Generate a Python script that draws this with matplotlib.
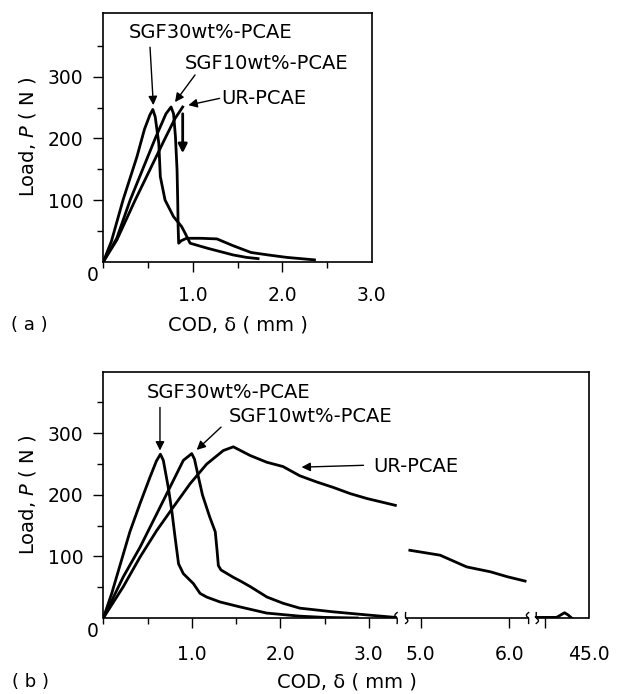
import numpy as np
import matplotlib
matplotlib.use("Agg")
import matplotlib.pyplot as plt
from matplotlib.transforms import blended_transform_factory

plt.rcParams['font.family'] = ['DejaVu Sans']
plt.rcParams['mathtext.fontset'] = 'dejavusans'

# ---- panel (a): COD up to 3 mm ----
a_sgf30_x = [0, 0.09, 0.22, 0.375, 0.46, 0.52, 0.553, 0.58, 0.62, 0.637, 0.69, 0.785,
             0.875, 0.915, 0.97, 1.16, 1.45, 1.60, 1.73]
a_sgf30_y = [0, 33, 100, 170, 215, 238, 247, 235, 192, 138, 100, 73,
             57, 46, 30, 22, 11, 7, 5]
a_sgf10_x = [0, 0.15, 0.30, 0.58, 0.70, 0.757, 0.785, 0.806, 0.824, 0.832, 0.836, 0.842,
             0.87, 0.93, 1.09, 1.27, 1.45, 1.65, 1.84, 2.05, 2.36]
a_sgf10_y = [0, 38, 100, 200, 240, 251, 240, 203, 149, 95, 57, 30,
             34, 38, 38, 37, 26, 15, 11, 7, 3]
a_ur_x = [0, 0.15, 0.356, 0.69, 0.80, 0.887]
a_ur_y = [0, 35, 100, 200, 232, 251]

# ---- panel (b): broken COD axis ----
b_sgf30_x = [0, 0.095, 0.30, 0.415, 0.528, 0.60, 0.645, 0.678, 0.734, 0.773, 0.81, 0.85,
             0.904, 1.017, 1.093, 1.168, 1.32, 1.545, 1.846, 2.22, 2.5, 2.87]
b_sgf30_y = [0, 40, 140, 186, 229, 255, 266, 256, 212, 175, 132, 88,
             72, 56, 40, 34, 26, 18, 8, 3, 1, 0]
b_sgf10_x = [0, 0.226, 0.415, 0.603, 0.79, 0.904, 0.999, 1.03, 1.07, 1.12, 1.2, 1.265,
             1.285, 1.30, 1.33, 1.40, 1.47, 1.55, 1.66, 1.85, 2.03, 2.22, 2.6, 2.98, 3.30]
b_sgf10_y = [0, 67, 115, 169, 223, 256, 267, 258, 232, 200, 165, 140,
             110, 85, 78, 72, 66, 60, 51, 34, 24, 16, 10, 5, 1]
b_ur_x = [0, 0.226, 0.415, 0.603, 0.79, 0.98, 1.168, 1.356, 1.469, 1.658, 1.846, 2.03,
          2.22, 2.41, 2.60, 2.79, 2.98, 3.30]
b_ur_y = [0, 51, 99, 142, 180, 218, 250, 272, 278, 264, 253, 246,
          231, 221, 212, 202, 194, 183]
b_ur2_x = [4.878, 5.22, 5.52, 5.79, 5.98, 6.18]
b_ur2_y = [110, 102, 83, 75, 67, 60]
b_ur3_x = [44.40, 44.63, 44.69, 44.72, 44.76, 44.80]
b_ur3_y = [1, 1, 6, 8.5, 5, 0]

# broken axis: shown pieces of the COD axis
b_segments = [(0, 3.32), (4.83, 6.22), (44.4, 45.0)]
b_ticks = [1.0, 2.0, 3.0, 5.0, 6.0, 44.5, 45.0]
b_ticklabels = ['1.0', '2.0', '3.0', '5.0', '6.0', '', '45.0']

seg_x = [-10, 0, 3.32, 4.83, 6.22, 44.4, 45.0, 60]
seg_u = [-10, 0, 3.32, 3.416, 4.806, 4.892, 5.492, 20.492]


def fwd(x):
    return np.interp(x, seg_x, seg_u)


def inv(u):
    return np.interp(u, seg_u, seg_x)


LW = 2.0
fig = plt.figure(figsize=(6.18, 6.94), dpi=100)
ax1 = fig.add_axes([0.1672, 0.6229, 0.4343, 0.3588])
ax2 = fig.add_axes([0.1672, 0.1095, 0.7864, 0.3549])
ax2.set_xscale('function', functions=(fwd, inv))

ax1.plot(a_sgf30_x, a_sgf30_y, color='k', lw=LW)
ax1.plot(a_sgf10_x, a_sgf10_y, color='k', lw=LW)
ax1.plot(a_ur_x, a_ur_y, color='k', lw=LW)

ax2.plot(b_sgf30_x, b_sgf30_y, color='k', lw=LW)
ax2.plot(b_sgf10_x, b_sgf10_y, color='k', lw=LW)
ax2.plot(b_ur_x, b_ur_y, color='k', lw=LW)
ax2.plot(b_ur2_x, b_ur2_y, color='k', lw=LW)
ax2.plot(b_ur3_x, b_ur3_y, color='k', lw=LW)

ax1.set_xlim(0, 3.0)
ax1.set_ylim(0, 404)
ax2.set_xlim(0, 45.0)
ax2.set_ylim(0, 400)

for ax in (ax1, ax2):
    for s in ax.spines.values():
        s.set_linewidth(1.2)
    ax.set_yticks([100, 200, 300])
    ax.set_yticks([50, 150, 250, 350], minor=True)
    ax.tick_params(which='both', direction='out', width=1.0, labelsize=13.5)
    ax.tick_params(which='major', length=7.2)
    ax.tick_params(which='minor', length=4.3)
    ax.tick_params(axis='y', pad=7)
    ax.annotate('0', xy=(0, 0), xytext=(-7.5, -10), textcoords='offset points',
                ha='center', va='center', fontsize=13.5)

ax1.set_xticks([1.0, 2.0, 3.0])
ax1.set_xticklabels(['1.0', '2.0', '3.0'])
ax1.set_xticks([0, 0.5, 1.5, 2.5], minor=True)
ax1.tick_params(axis='x', pad=10)
ax1.xaxis.get_major_ticks()[-1].tick1line.set_visible(False)

ax2.set_xticks(b_ticks)
ax2.set_xticklabels(b_ticklabels)
ax2.set_xticks([0, 0.5, 1.5, 2.5], minor=True)
ax2.tick_params(axis='x', pad=12)
ax2.xaxis.get_major_ticks()[-1].tick1line.set_visible(False)

# bottom axis with breaks
ax2.spines['bottom'].set_visible(False)
for x0, x1 in b_segments:
    ax2.hlines(0, x0, x1, color='k', lw=1.2, clip_on=False, zorder=5)
trans = blended_transform_factory(ax2.transData, ax2.transAxes)
t = np.linspace(0, 2 * np.pi, 40)
for xb in [3.32, 4.83, 6.22, 44.4]:
    ax2.plot(xb + 0.025 * np.sin(t), -0.022 + 0.044 * t / (2 * np.pi), color='k',
             lw=1.0, transform=trans, clip_on=False)

arrow = dict(arrowstyle='-|>', color='k', lw=1.0, mutation_scale=13, shrinkA=0, shrinkB=0)
FS = 14

# panel (a) annotations
ax1.text(0.279, 372, 'SGF30wt%-PCAE', fontsize=FS, ha='left', va='center')
ax1.text(0.913, 322, 'SGF10wt%-PCAE', fontsize=FS, ha='left', va='center')
ax1.text(1.323, 265, 'UR-PCAE', fontsize=FS, ha='left', va='center')
ax1.annotate('', xy=(0.559, 254), xytext=(0.522, 348), arrowprops=arrow)
ax1.annotate('', xy=(0.801, 259), xytext=(1.025, 303), arrowprops=arrow)
ax1.annotate('', xy=(0.95, 254), xytext=(1.30, 265), arrowprops=arrow)
ax1.annotate('', xy=(0.887, 176), xytext=(0.887, 240),
             arrowprops=dict(arrowstyle='-|>', color='k', lw=2.0, mutation_scale=13,
                             shrinkA=0, shrinkB=0))

# panel (b) annotations
ax2.text(0.49, 367, 'SGF30wt%-PCAE', fontsize=FS, ha='left', va='center')
ax2.text(1.412, 327, 'SGF10wt%-PCAE', fontsize=FS, ha='left', va='center')
ax2.text(3.045, 246, 'UR-PCAE', fontsize=FS, ha='left', va='center')
ax2.annotate('', xy=(0.64, 272), xytext=(0.64, 342), arrowprops=arrow)
ax2.annotate('', xy=(1.055, 273), xytext=(1.33, 310), arrowprops=arrow)
ax2.annotate('', xy=(2.24, 245), xytext=(2.94, 248), arrowprops=arrow)

# axis labels and panel tags
fig.text(28 / 618, 1 - 137 / 694, 'Load, $P$ ( N )', rotation=90, ha='center', va='center',
         fontsize=FS)
fig.text(28 / 618, 1 - 495 / 694, 'Load, $P$ ( N )', rotation=90, ha='center', va='center',
         fontsize=FS)
fig.text(238 / 618, 1 - 325 / 694, 'COD, δ ( mm )', ha='center', va='center', fontsize=FS)
fig.text(347 / 618, 1 - 682 / 694, 'COD, δ ( mm )', ha='center', va='center', fontsize=FS)
fig.text(29 / 618, 1 - 325 / 694, '( a )', ha='center', va='center', fontsize=13)
fig.text(30 / 618, 1 - 682 / 694, '( b )', ha='center', va='center', fontsize=13)

fig.savefig('out.png', dpi=100)
